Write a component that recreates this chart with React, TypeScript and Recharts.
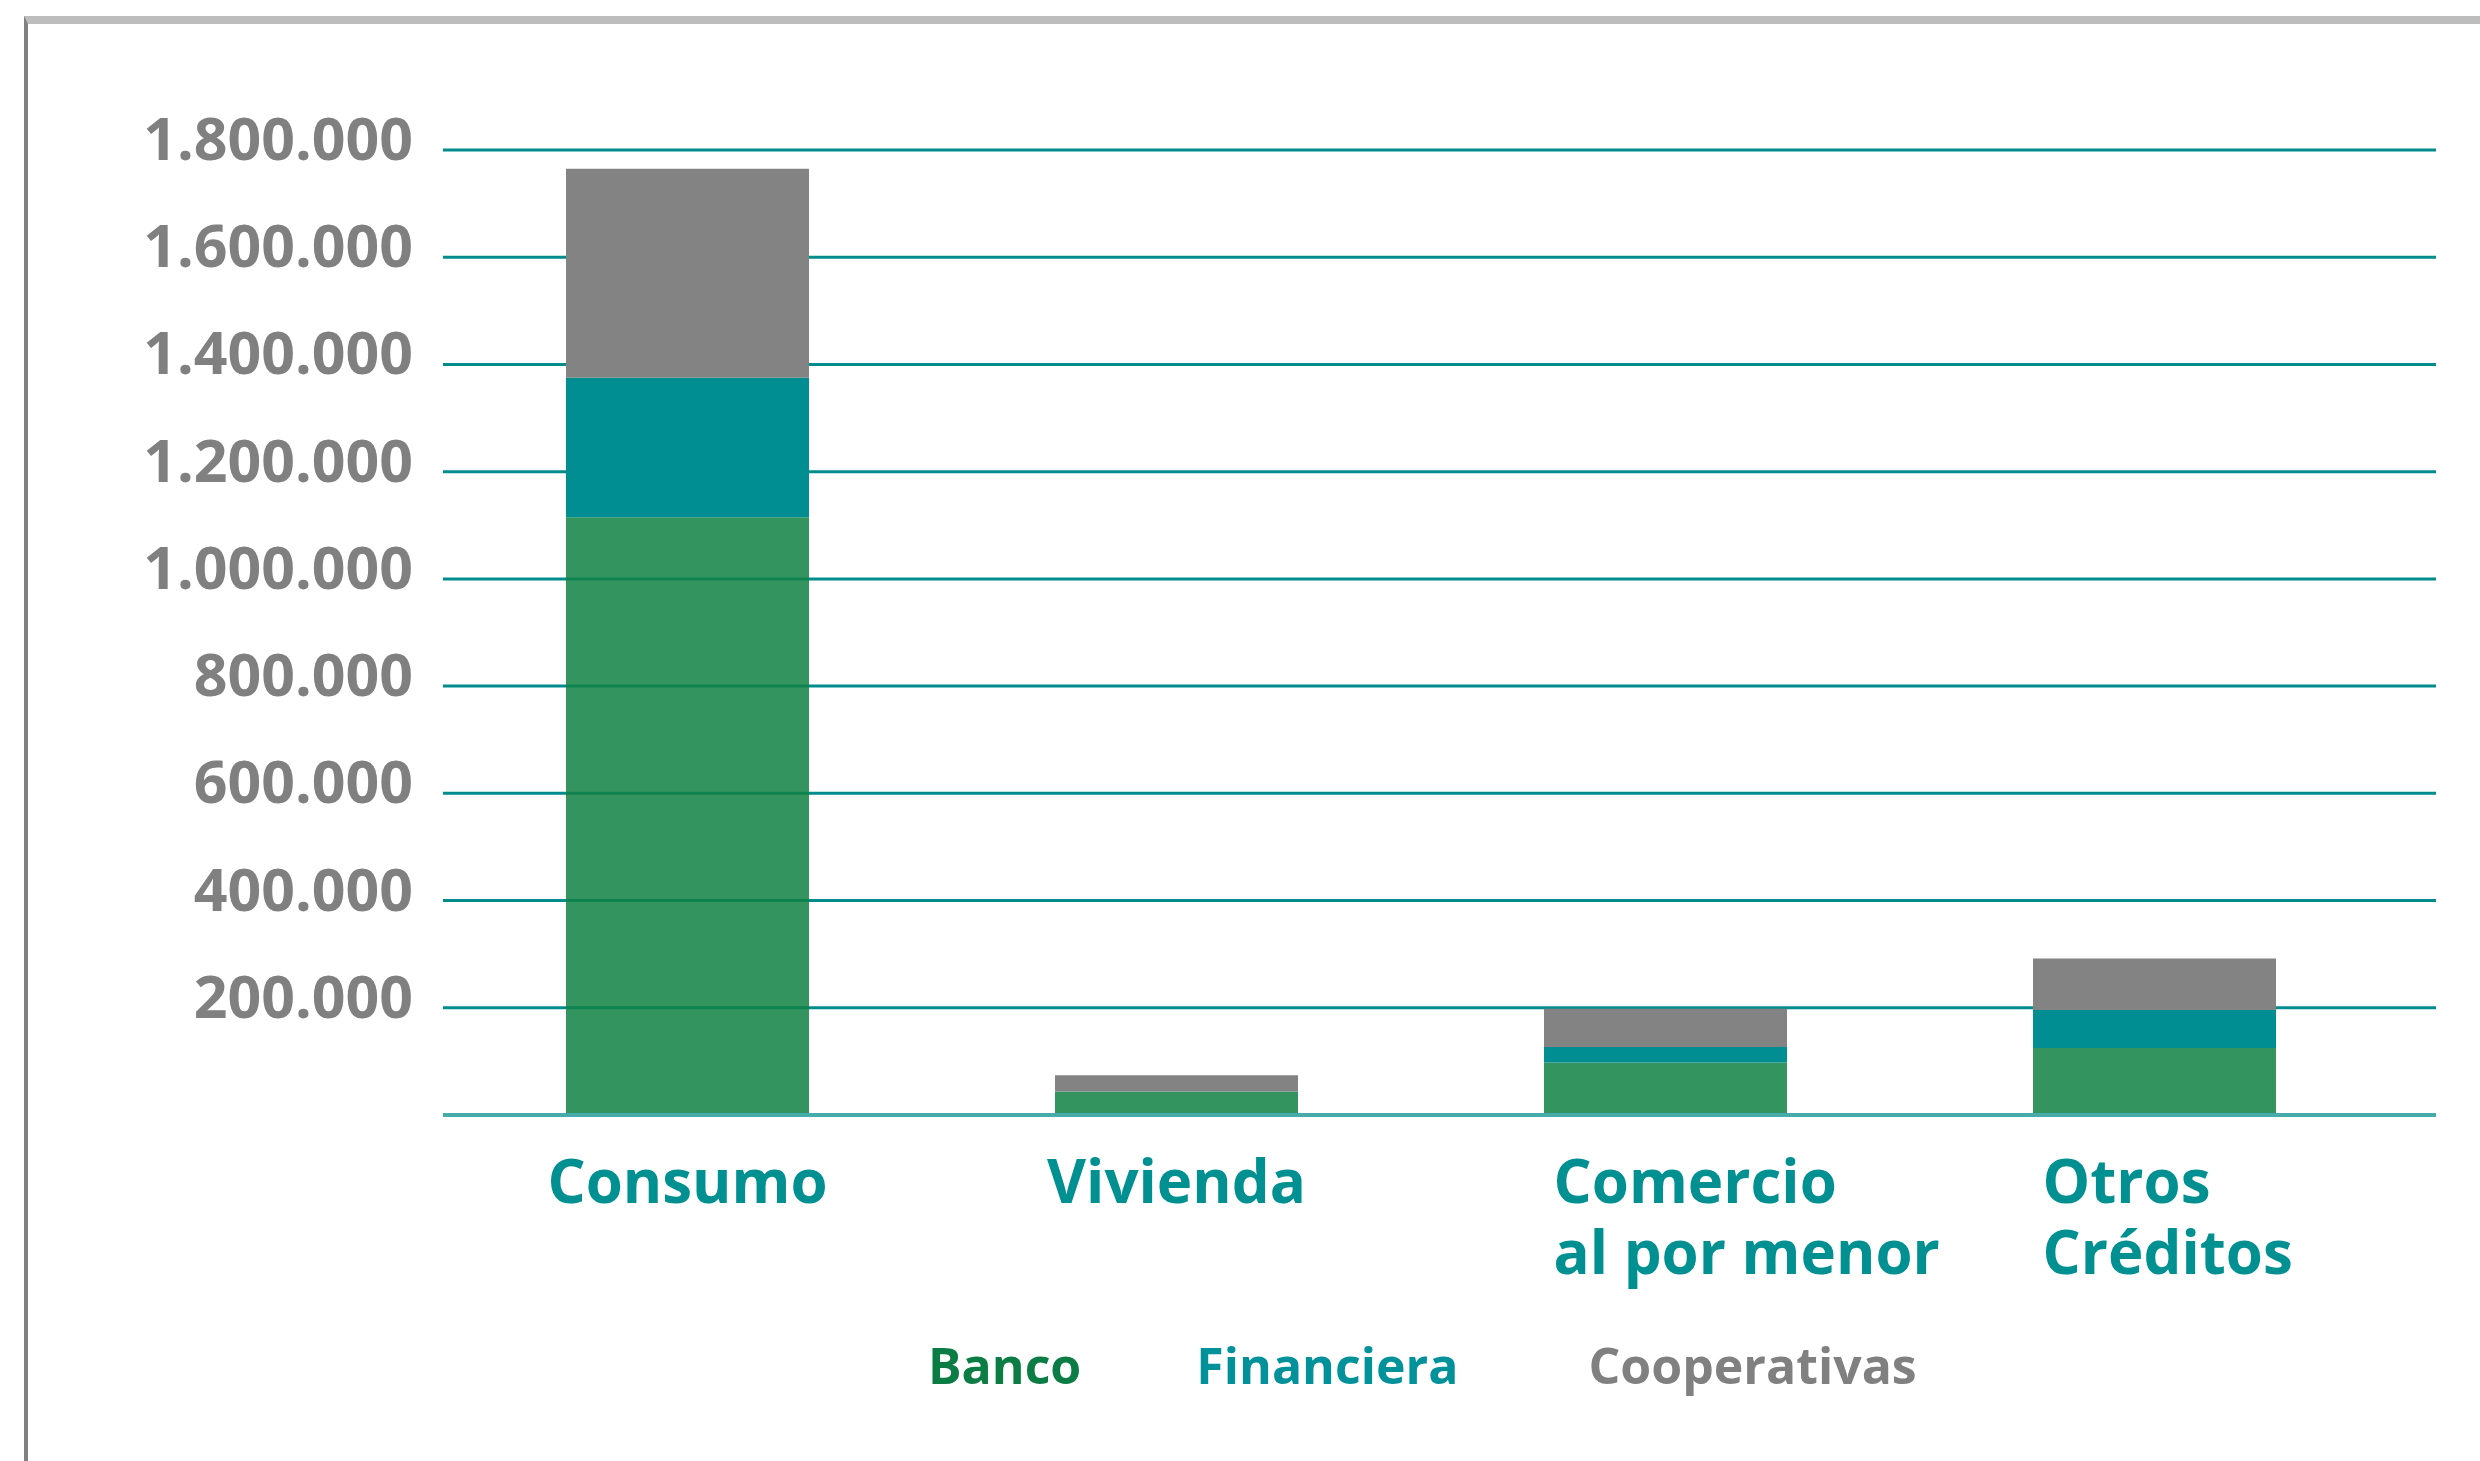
import React from 'react';
import { BarChart, Bar, XAxis, YAxis, CartesianGrid, Legend } from 'recharts';

const categories = ['Consumo', 'Vivienda', 'Comercio\nal por menor', 'Otros\nCréditos'];
const banco = [1115000, 44000, 98000, 125000];
const financiera = [260000, 0, 29000, 71000];
const cooperativas = [390000, 30000, 71000, 96000];
const yTicks = [0, 200000, 400000, 600000, 800000, 1000000, 1200000, 1400000, 1600000, 1800000];

const series = [
  { key: 'banco', name: 'Banco', fill: '#118143', opacity: 0.85, text: '#0b7d44', gapAfter: 115 },
  { key: 'financiera', name: 'Financiera', fill: '#018e92', opacity: 1, text: '#00919a', gapAfter: 130 },
  { key: 'cooperativas', name: 'Cooperativas', fill: '#838383', opacity: 1, text: '#808080', gapAfter: 0 },
];

const data = categories.map((name, i) => ({
  name,
  banco: banco[i],
  financiera: financiera[i],
  cooperativas: cooperativas[i],
}));

const FONT = '"Open Sans", sans-serif';

const fmt = (v: number) => (v === 0 ? '' : String(v).replace(/\B(?=(\d{3})+(?!\d))/g, '.'));

const YTick = ({ x, y, payload }: any) => (
  <text x={x} y={y + 10} textAnchor="end" fill="#808080" fontSize={59} fontWeight={700} fontFamily={FONT}>
    {fmt(payload.value)}
  </text>
);

// multi-line labels are left aligned a bit left of the bar centre, single ones centred
const XTick = ({ x, y, payload }: any) => {
  const lines = String(payload.value).split('\n');
  const multi = lines.length > 1;
  const tx = multi ? x - 112 : x;
  return (
    <text
      x={tx}
      y={y + 88}
      textAnchor={multi ? 'start' : 'middle'}
      fill="#009092"
      fontSize={60}
      fontWeight={700}
      fontFamily={FONT}
    >
      {lines.map((line, i) => (
        <tspan key={i} x={tx} dy={i === 0 ? 0 : 71}>{line}</tspan>
      ))}
    </text>
  );
};

const LegendContent = () => (
  <div style={{ display: 'flex', paddingLeft: 928, fontFamily: FONT, fontSize: 50, fontWeight: 700, lineHeight: '50px' }}>
    {series.map((s) => (
      <span key={s.key} style={{ color: s.text, marginRight: s.gapAfter }}>{s.name}</span>
    ))}
  </div>
);

export default function App() {
  return (
    <div style={{ position: 'absolute', left: 0, top: 0, width: 2480, height: 1461, background: '#fff', overflow: 'hidden' }}>
      <div
        style={{
          position: 'absolute', left: 24, top: 16, right: 0, bottom: 0,
          borderTop: '8px solid #bdbdbd', borderLeft: '4px solid #808080',
        }}
      />
      <BarChart
        width={2480}
        height={1461}
        data={data}
        margin={{ top: 150, right: 44, bottom: 146, left: 0 }}
        style={{ position: 'absolute', left: 0, top: 0 }}
      >
        <CartesianGrid vertical={false} stroke="#008b8c" strokeWidth={3} />
        <XAxis
          dataKey="name"
          height={200}
          interval={0}
          padding={{ left: 0, right: 37 }}
          axisLine={{ stroke: '#45abab', strokeWidth: 4 }}
          tickLine={false}
          tickSize={0}
          tickMargin={0}
          tick={<XTick />}
        />
        <YAxis
          width={443}
          domain={[0, 1800000]}
          ticks={yTicks}
          axisLine={false}
          tickLine={false}
          tickSize={0}
          tickMargin={30}
          tick={<YTick />}
        />
        <Legend verticalAlign="middle" layout="horizontal" wrapperStyle={{ top: 1340, left: 0, width: 2480 }} content={<LegendContent />} />
        {series.map((s) => (
          <Bar key={s.key} dataKey={s.key} name={s.name} stackId="a" fill={s.fill} fillOpacity={s.opacity} barSize={243} isAnimationActive={false} />
        ))}
      </BarChart>
    </div>
  );
}
